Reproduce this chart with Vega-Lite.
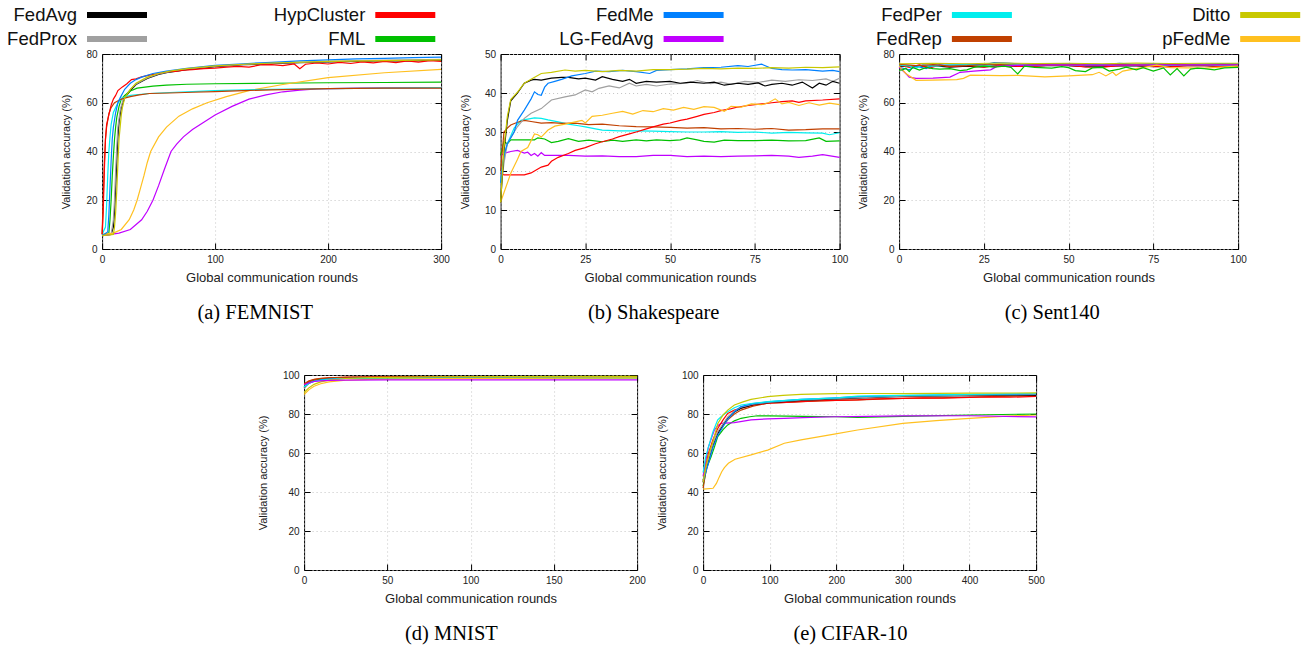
{
"$schema": "https://vega.github.io/schema/vega-lite/v6.json",
"padding": {"left": 60, "top": 4, "right": 0, "bottom": 0},
"background": "white",
"datasets": {
"a": [
{"m":"FedAvg","r":0,"v":5.5},{"m":"FedAvg","r":8,"v":6},{"m":"FedAvg","r":10,"v":9},{"m":"FedAvg","r":11,"v":15},{"m":"FedAvg","r":12,"v":25},{"m":"FedAvg","r":13,"v":36},{"m":"FedAvg","r":14,"v":46},{"m":"FedAvg","r":15,"v":52},{"m":"FedAvg","r":17,"v":58},{"m":"FedAvg","r":20,"v":62},{"m":"FedAvg","r":25,"v":65},{"m":"FedAvg","r":30,"v":67.5},{"m":"FedAvg","r":40,"v":70},{"m":"FedAvg","r":50,"v":71.6},{"m":"FedAvg","r":60,"v":72.6},{"m":"FedAvg","r":75,"v":73.6},{"m":"FedAvg","r":90,"v":74.3},{"m":"FedAvg","r":100,"v":74.8},{"m":"FedAvg","r":125,"v":75.6},{"m":"FedAvg","r":150,"v":76},{"m":"FedAvg","r":175,"v":76.4},{"m":"FedAvg","r":200,"v":76.8},{"m":"FedAvg","r":225,"v":77},{"m":"FedAvg","r":250,"v":77.3},{"m":"FedAvg","r":275,"v":77.2},{"m":"FedAvg","r":300,"v":77.5},
{"m":"FedProx","r":0,"v":5.5},{"m":"FedProx","r":8,"v":6},{"m":"FedProx","r":10,"v":12},{"m":"FedProx","r":11,"v":20},{"m":"FedProx","r":12,"v":32},{"m":"FedProx","r":13,"v":42},{"m":"FedProx","r":14,"v":50},{"m":"FedProx","r":16,"v":57},{"m":"FedProx","r":19,"v":62},{"m":"FedProx","r":25,"v":65.5},{"m":"FedProx","r":30,"v":67.7},{"m":"FedProx","r":40,"v":70.2},{"m":"FedProx","r":50,"v":71.8},{"m":"FedProx","r":60,"v":72.8},{"m":"FedProx","r":75,"v":73.8},{"m":"FedProx","r":100,"v":75},{"m":"FedProx","r":125,"v":75.7},{"m":"FedProx","r":150,"v":76.2},{"m":"FedProx","r":175,"v":76.6},{"m":"FedProx","r":200,"v":77},{"m":"FedProx","r":250,"v":77.5},{"m":"FedProx","r":300,"v":77.8},
{"m":"FML","r":0,"v":5.5},{"m":"FML","r":6,"v":6.5},{"m":"FML","r":7,"v":12},{"m":"FML","r":8,"v":20},{"m":"FML","r":9,"v":30},{"m":"FML","r":10,"v":38},{"m":"FML","r":11,"v":45},{"m":"FML","r":12,"v":50},{"m":"FML","r":13,"v":54},{"m":"FML","r":15,"v":58.5},{"m":"FML","r":17,"v":61.5},{"m":"FML","r":20,"v":63},{"m":"FML","r":25,"v":64.8},{"m":"FML","r":31,"v":66},{"m":"FML","r":45,"v":66.8},{"m":"FML","r":57,"v":67.2},{"m":"FML","r":75,"v":67.6},{"m":"FML","r":100,"v":67.8},{"m":"FML","r":150,"v":68},{"m":"FML","r":200,"v":68.2},{"m":"FML","r":250,"v":68.3},{"m":"FML","r":300,"v":68.5},
{"m":"LG-FedAvg","r":0,"v":5.5},{"m":"LG-FedAvg","r":15,"v":6.5},{"m":"LG-FedAvg","r":25,"v":8},{"m":"LG-FedAvg","r":35,"v":12},{"m":"LG-FedAvg","r":40,"v":15.5},{"m":"LG-FedAvg","r":45,"v":20},{"m":"LG-FedAvg","r":50,"v":26},{"m":"LG-FedAvg","r":55,"v":32.5},{"m":"LG-FedAvg","r":61,"v":40},{"m":"LG-FedAvg","r":66,"v":43},{"m":"LG-FedAvg","r":72,"v":46},{"m":"LG-FedAvg","r":80,"v":49},{"m":"LG-FedAvg","r":90,"v":52},{"m":"LG-FedAvg","r":100,"v":55},{"m":"LG-FedAvg","r":115,"v":58.5},{"m":"LG-FedAvg","r":130,"v":61.5},{"m":"LG-FedAvg","r":145,"v":63.2},{"m":"LG-FedAvg","r":160,"v":64.5},{"m":"LG-FedAvg","r":175,"v":65.2},{"m":"LG-FedAvg","r":190,"v":65.7},{"m":"LG-FedAvg","r":230,"v":66},{"m":"LG-FedAvg","r":300,"v":66.2},
{"m":"pFedMe","r":0,"v":6},{"m":"pFedMe","r":10,"v":6.5},{"m":"pFedMe","r":17,"v":8},{"m":"pFedMe","r":24,"v":12},{"m":"pFedMe","r":28,"v":16},{"m":"pFedMe","r":31,"v":20},{"m":"pFedMe","r":34,"v":25},{"m":"pFedMe","r":37,"v":30},{"m":"pFedMe","r":40,"v":35.5},{"m":"pFedMe","r":43,"v":40},{"m":"pFedMe","r":50,"v":46},{"m":"pFedMe","r":57,"v":50},{"m":"pFedMe","r":68,"v":54.5},{"m":"pFedMe","r":80,"v":57.5},{"m":"pFedMe","r":93,"v":60},{"m":"pFedMe","r":110,"v":62.5},{"m":"pFedMe","r":130,"v":65},{"m":"pFedMe","r":160,"v":67.5},{"m":"pFedMe","r":200,"v":70.3},{"m":"pFedMe","r":250,"v":72.3},{"m":"pFedMe","r":300,"v":73.7},
{"m":"FedPer","r":0,"v":6},{"m":"FedPer","r":3,"v":9},{"m":"FedPer","r":4,"v":18},{"m":"FedPer","r":5,"v":30},{"m":"FedPer","r":6,"v":40},{"m":"FedPer","r":7,"v":46},{"m":"FedPer","r":8,"v":51},{"m":"FedPer","r":10,"v":56},{"m":"FedPer","r":12,"v":58},{"m":"FedPer","r":14,"v":60},{"m":"FedPer","r":18,"v":62},{"m":"FedPer","r":25,"v":63},{"m":"FedPer","r":42,"v":63.8},{"m":"FedPer","r":60,"v":64.2},{"m":"FedPer","r":80,"v":64.6},{"m":"FedPer","r":100,"v":65},{"m":"FedPer","r":150,"v":65.5},{"m":"FedPer","r":200,"v":65.8},{"m":"FedPer","r":250,"v":66},{"m":"FedPer","r":300,"v":66.2},
{"m":"FedRep","r":0,"v":6},{"m":"FedRep","r":1,"v":20},{"m":"FedRep","r":2,"v":35},{"m":"FedRep","r":3,"v":45},{"m":"FedRep","r":4,"v":50},{"m":"FedRep","r":6,"v":55.5},{"m":"FedRep","r":8,"v":58},{"m":"FedRep","r":11,"v":60},{"m":"FedRep","r":15,"v":61},{"m":"FedRep","r":19,"v":61.8},{"m":"FedRep","r":25,"v":62.5},{"m":"FedRep","r":33,"v":63.2},{"m":"FedRep","r":42,"v":63.8},{"m":"FedRep","r":60,"v":64},{"m":"FedRep","r":80,"v":64.3},{"m":"FedRep","r":100,"v":64.6},{"m":"FedRep","r":125,"v":65},{"m":"FedRep","r":150,"v":65.3},{"m":"FedRep","r":200,"v":65.8},{"m":"FedRep","r":250,"v":66},{"m":"FedRep","r":300,"v":66},
{"m":"HypCluster","r":0,"v":6},{"m":"HypCluster","r":1,"v":15},{"m":"HypCluster","r":2,"v":32},{"m":"HypCluster","r":3,"v":45},{"m":"HypCluster","r":4,"v":51},{"m":"HypCluster","r":6,"v":55},{"m":"HypCluster","r":8,"v":59},{"m":"HypCluster","r":10,"v":61.5},{"m":"HypCluster","r":12,"v":63},{"m":"HypCluster","r":14,"v":65},{"m":"HypCluster","r":18,"v":66.5},{"m":"HypCluster","r":22,"v":67.8},{"m":"HypCluster","r":26,"v":69.5},{"m":"HypCluster","r":30,"v":69.8},{"m":"HypCluster","r":35,"v":70.6},{"m":"HypCluster","r":42,"v":71.3},{"m":"HypCluster","r":50,"v":72},{"m":"HypCluster","r":57,"v":72.8},{"m":"HypCluster","r":65,"v":72.9},{"m":"HypCluster","r":72,"v":73.4},{"m":"HypCluster","r":80,"v":73.6},{"m":"HypCluster","r":90,"v":74},{"m":"HypCluster","r":100,"v":74.2},{"m":"HypCluster","r":110,"v":74.6},{"m":"HypCluster","r":120,"v":74.9},{"m":"HypCluster","r":130,"v":74.6},{"m":"HypCluster","r":140,"v":75.5},{"m":"HypCluster","r":150,"v":75.6},{"m":"HypCluster","r":160,"v":75.2},{"m":"HypCluster","r":170,"v":75.9},{"m":"HypCluster","r":175,"v":74},{"m":"HypCluster","r":180,"v":75.8},{"m":"HypCluster","r":190,"v":76.3},{"m":"HypCluster","r":200,"v":75.9},{"m":"HypCluster","r":210,"v":76.6},{"m":"HypCluster","r":220,"v":76.1},{"m":"HypCluster","r":230,"v":76.8},{"m":"HypCluster","r":240,"v":76.4},{"m":"HypCluster","r":250,"v":77},{"m":"HypCluster","r":260,"v":76.5},{"m":"HypCluster","r":270,"v":77.2},{"m":"HypCluster","r":280,"v":76.7},{"m":"HypCluster","r":290,"v":77.3},{"m":"HypCluster","r":300,"v":77},
{"m":"FedMe","r":0,"v":5.5},{"m":"FedMe","r":5,"v":7},{"m":"FedMe","r":6,"v":14},{"m":"FedMe","r":7,"v":25},{"m":"FedMe","r":8,"v":36},{"m":"FedMe","r":9,"v":45},{"m":"FedMe","r":10,"v":50},{"m":"FedMe","r":12,"v":56},{"m":"FedMe","r":14,"v":60},{"m":"FedMe","r":16,"v":62},{"m":"FedMe","r":20,"v":65.5},{"m":"FedMe","r":25,"v":68},{"m":"FedMe","r":30,"v":69.5},{"m":"FedMe","r":35,"v":70.5},{"m":"FedMe","r":45,"v":72},{"m":"FedMe","r":57,"v":73},{"m":"FedMe","r":75,"v":74.1},{"m":"FedMe","r":100,"v":75.3},{"m":"FedMe","r":125,"v":76},{"m":"FedMe","r":150,"v":76.6},{"m":"FedMe","r":175,"v":77.2},{"m":"FedMe","r":200,"v":77.6},{"m":"FedMe","r":225,"v":78},{"m":"FedMe","r":250,"v":78.2},{"m":"FedMe","r":275,"v":78.5},{"m":"FedMe","r":300,"v":78.7},
{"m":"Ditto","r":0,"v":5.5},{"m":"Ditto","r":10,"v":6},{"m":"Ditto","r":11,"v":9},{"m":"Ditto","r":12,"v":15},{"m":"Ditto","r":13,"v":24},{"m":"Ditto","r":14,"v":35},{"m":"Ditto","r":15,"v":45},{"m":"Ditto","r":17,"v":55},{"m":"Ditto","r":18,"v":58},{"m":"Ditto","r":20,"v":62},{"m":"Ditto","r":25,"v":65.5},{"m":"Ditto","r":30,"v":68},{"m":"Ditto","r":40,"v":70.5},{"m":"Ditto","r":50,"v":72},{"m":"Ditto","r":60,"v":73},{"m":"Ditto","r":75,"v":74},{"m":"Ditto","r":100,"v":75.1},{"m":"Ditto","r":125,"v":75.8},{"m":"Ditto","r":150,"v":76.3},{"m":"Ditto","r":200,"v":77},{"m":"Ditto","r":250,"v":77.3},{"m":"Ditto","r":300,"v":77.6}
],
"b": [
{"m":"LG-FedAvg","r":0,"v":24},{"m":"LG-FedAvg","r":1,"v":24.5},{"m":"LG-FedAvg","r":3,"v":25},{"m":"LG-FedAvg","r":5,"v":25.3},{"m":"LG-FedAvg","r":7,"v":24.6},{"m":"LG-FedAvg","r":8,"v":24.8},{"m":"LG-FedAvg","r":9,"v":24},{"m":"LG-FedAvg","r":10,"v":24.5},{"m":"LG-FedAvg","r":11,"v":23.8},{"m":"LG-FedAvg","r":12,"v":24.7},{"m":"LG-FedAvg","r":13,"v":24},{"m":"LG-FedAvg","r":16,"v":24},{"m":"LG-FedAvg","r":20,"v":24},{"m":"LG-FedAvg","r":25,"v":23.8},{"m":"LG-FedAvg","r":30,"v":23.9},{"m":"LG-FedAvg","r":35,"v":23.7},{"m":"LG-FedAvg","r":40,"v":23.7},{"m":"LG-FedAvg","r":45,"v":24},{"m":"LG-FedAvg","r":50,"v":24},{"m":"LG-FedAvg","r":55,"v":23.7},{"m":"LG-FedAvg","r":60,"v":23.8},{"m":"LG-FedAvg","r":65,"v":23.7},{"m":"LG-FedAvg","r":70,"v":23.8},{"m":"LG-FedAvg","r":75,"v":23.9},{"m":"LG-FedAvg","r":80,"v":24},{"m":"LG-FedAvg","r":85,"v":23.8},{"m":"LG-FedAvg","r":88,"v":23.5},{"m":"LG-FedAvg","r":92,"v":23.8},{"m":"LG-FedAvg","r":95,"v":24.2},{"m":"LG-FedAvg","r":100,"v":23.5},
{"m":"FML","r":0,"v":24},{"m":"FML","r":1,"v":27.5},{"m":"FML","r":2,"v":27},{"m":"FML","r":3,"v":28},{"m":"FML","r":5,"v":28},{"m":"FML","r":8,"v":28},{"m":"FML","r":10,"v":28},{"m":"FML","r":11,"v":28.5},{"m":"FML","r":13,"v":28.2},{"m":"FML","r":15,"v":27.3},{"m":"FML","r":17,"v":27.6},{"m":"FML","r":20,"v":28.3},{"m":"FML","r":23,"v":27.6},{"m":"FML","r":26,"v":27.9},{"m":"FML","r":30,"v":27.5},{"m":"FML","r":33,"v":27.9},{"m":"FML","r":36,"v":27.6},{"m":"FML","r":40,"v":28},{"m":"FML","r":43,"v":27.7},{"m":"FML","r":46,"v":28},{"m":"FML","r":50,"v":27.8},{"m":"FML","r":53,"v":28},{"m":"FML","r":55,"v":28.5},{"m":"FML","r":58,"v":28},{"m":"FML","r":60,"v":27.6},{"m":"FML","r":63,"v":27.4},{"m":"FML","r":66,"v":27.9},{"m":"FML","r":70,"v":27.8},{"m":"FML","r":75,"v":27.8},{"m":"FML","r":80,"v":27.9},{"m":"FML","r":85,"v":27.7},{"m":"FML","r":90,"v":27.8},{"m":"FML","r":94,"v":28.5},{"m":"FML","r":96,"v":27.6},{"m":"FML","r":100,"v":27.7},
{"m":"FedPer","r":0,"v":17},{"m":"FedPer","r":1,"v":24},{"m":"FedPer","r":2,"v":27},{"m":"FedPer","r":4,"v":31},{"m":"FedPer","r":6,"v":33},{"m":"FedPer","r":8,"v":33.3},{"m":"FedPer","r":10,"v":33.6},{"m":"FedPer","r":12,"v":33.5},{"m":"FedPer","r":14,"v":33.1},{"m":"FedPer","r":17,"v":32.6},{"m":"FedPer","r":20,"v":32},{"m":"FedPer","r":23,"v":31.6},{"m":"FedPer","r":25,"v":31.3},{"m":"FedPer","r":28,"v":30.8},{"m":"FedPer","r":30,"v":30.5},{"m":"FedPer","r":35,"v":30.3},{"m":"FedPer","r":40,"v":30.3},{"m":"FedPer","r":45,"v":30.2},{"m":"FedPer","r":50,"v":30.1},{"m":"FedPer","r":55,"v":30},{"m":"FedPer","r":60,"v":30},{"m":"FedPer","r":65,"v":30.1},{"m":"FedPer","r":70,"v":29.9},{"m":"FedPer","r":75,"v":30},{"m":"FedPer","r":80,"v":29.7},{"m":"FedPer","r":85,"v":29.9},{"m":"FedPer","r":90,"v":29.8},{"m":"FedPer","r":95,"v":29.7},{"m":"FedPer","r":97,"v":29.3},{"m":"FedPer","r":100,"v":29.8},
{"m":"FedRep","r":0,"v":20},{"m":"FedRep","r":1,"v":30},{"m":"FedRep","r":2,"v":31},{"m":"FedRep","r":3,"v":31.8},{"m":"FedRep","r":5,"v":32.5},{"m":"FedRep","r":7,"v":33},{"m":"FedRep","r":9,"v":32.7},{"m":"FedRep","r":12,"v":32.3},{"m":"FedRep","r":15,"v":32.4},{"m":"FedRep","r":18,"v":32.2},{"m":"FedRep","r":22,"v":32.3},{"m":"FedRep","r":26,"v":31.9},{"m":"FedRep","r":30,"v":32},{"m":"FedRep","r":35,"v":31.6},{"m":"FedRep","r":40,"v":31.4},{"m":"FedRep","r":45,"v":31.3},{"m":"FedRep","r":50,"v":31.2},{"m":"FedRep","r":55,"v":31},{"m":"FedRep","r":60,"v":31.1},{"m":"FedRep","r":65,"v":30.8},{"m":"FedRep","r":70,"v":30.9},{"m":"FedRep","r":75,"v":30.7},{"m":"FedRep","r":80,"v":30.9},{"m":"FedRep","r":85,"v":30.5},{"m":"FedRep","r":90,"v":30.6},{"m":"FedRep","r":95,"v":30.8},{"m":"FedRep","r":100,"v":30.8},
{"m":"HypCluster","r":0,"v":19.5},{"m":"HypCluster","r":1,"v":19},{"m":"HypCluster","r":7,"v":19},{"m":"HypCluster","r":9,"v":19.5},{"m":"HypCluster","r":10,"v":20},{"m":"HypCluster","r":12,"v":21},{"m":"HypCluster","r":14,"v":21.5},{"m":"HypCluster","r":15,"v":22.5},{"m":"HypCluster","r":17,"v":23.5},{"m":"HypCluster","r":20,"v":24.5},{"m":"HypCluster","r":22,"v":25.3},{"m":"HypCluster","r":25,"v":26},{"m":"HypCluster","r":28,"v":27},{"m":"HypCluster","r":30,"v":27.5},{"m":"HypCluster","r":33,"v":28.2},{"m":"HypCluster","r":35,"v":28.8},{"m":"HypCluster","r":38,"v":29.5},{"m":"HypCluster","r":40,"v":30},{"m":"HypCluster","r":43,"v":30.8},{"m":"HypCluster","r":45,"v":31.3},{"m":"HypCluster","r":48,"v":32},{"m":"HypCluster","r":50,"v":32.3},{"m":"HypCluster","r":53,"v":33},{"m":"HypCluster","r":55,"v":33.3},{"m":"HypCluster","r":58,"v":34},{"m":"HypCluster","r":60,"v":34.5},{"m":"HypCluster","r":63,"v":35},{"m":"HypCluster","r":65,"v":35.5},{"m":"HypCluster","r":68,"v":36},{"m":"HypCluster","r":70,"v":36.4},{"m":"HypCluster","r":73,"v":36.8},{"m":"HypCluster","r":75,"v":37},{"m":"HypCluster","r":78,"v":37.3},{"m":"HypCluster","r":80,"v":37.5},{"m":"HypCluster","r":83,"v":37.8},{"m":"HypCluster","r":86,"v":38},{"m":"HypCluster","r":88,"v":37.6},{"m":"HypCluster","r":90,"v":38},{"m":"HypCluster","r":95,"v":38.2},{"m":"HypCluster","r":100,"v":38.5},
{"m":"pFedMe","r":0,"v":12},{"m":"pFedMe","r":3,"v":19.4},{"m":"pFedMe","r":5,"v":23},{"m":"pFedMe","r":6,"v":25},{"m":"pFedMe","r":8,"v":26},{"m":"pFedMe","r":10,"v":29.5},{"m":"pFedMe","r":11,"v":29.3},{"m":"pFedMe","r":12,"v":28.7},{"m":"pFedMe","r":14,"v":30.5},{"m":"pFedMe","r":16,"v":31.5},{"m":"pFedMe","r":19,"v":32},{"m":"pFedMe","r":22,"v":32.6},{"m":"pFedMe","r":24,"v":33},{"m":"pFedMe","r":25,"v":32.3},{"m":"pFedMe","r":27,"v":34},{"m":"pFedMe","r":30,"v":34.3},{"m":"pFedMe","r":33,"v":34.8},{"m":"pFedMe","r":36,"v":35.3},{"m":"pFedMe","r":39,"v":34.6},{"m":"pFedMe","r":42,"v":35.5},{"m":"pFedMe","r":45,"v":35.2},{"m":"pFedMe","r":48,"v":36},{"m":"pFedMe","r":51,"v":35.6},{"m":"pFedMe","r":54,"v":36.3},{"m":"pFedMe","r":57,"v":35.8},{"m":"pFedMe","r":60,"v":36.5},{"m":"pFedMe","r":63,"v":36.3},{"m":"pFedMe","r":66,"v":35.3},{"m":"pFedMe","r":68,"v":36.6},{"m":"pFedMe","r":71,"v":36.4},{"m":"pFedMe","r":74,"v":37.2},{"m":"pFedMe","r":77,"v":37},{"m":"pFedMe","r":79,"v":37.5},{"m":"pFedMe","r":81,"v":38.5},{"m":"pFedMe","r":83,"v":37.2},{"m":"pFedMe","r":85,"v":37.6},{"m":"pFedMe","r":88,"v":36.8},{"m":"pFedMe","r":91,"v":37.5},{"m":"pFedMe","r":94,"v":36.9},{"m":"pFedMe","r":97,"v":37.4},{"m":"pFedMe","r":100,"v":37},
{"m":"FedProx","r":0,"v":15},{"m":"FedProx","r":1,"v":22},{"m":"FedProx","r":2,"v":27},{"m":"FedProx","r":4,"v":30},{"m":"FedProx","r":5,"v":31.4},{"m":"FedProx","r":7,"v":33.5},{"m":"FedProx","r":9,"v":34.8},{"m":"FedProx","r":12,"v":36},{"m":"FedProx","r":15,"v":38.2},{"m":"FedProx","r":19,"v":39},{"m":"FedProx","r":22,"v":39.5},{"m":"FedProx","r":25,"v":40.8},{"m":"FedProx","r":27,"v":40.3},{"m":"FedProx","r":29,"v":41.2},{"m":"FedProx","r":32,"v":41.8},{"m":"FedProx","r":35,"v":41.3},{"m":"FedProx","r":38,"v":42.5},{"m":"FedProx","r":40,"v":41.8},{"m":"FedProx","r":43,"v":42.2},{"m":"FedProx","r":46,"v":41.8},{"m":"FedProx","r":50,"v":42.3},{"m":"FedProx","r":55,"v":42.5},{"m":"FedProx","r":58,"v":43.2},{"m":"FedProx","r":62,"v":42.4},{"m":"FedProx","r":65,"v":42.8},{"m":"FedProx","r":68,"v":42.2},{"m":"FedProx","r":72,"v":43},{"m":"FedProx","r":76,"v":42.7},{"m":"FedProx","r":80,"v":43.3},{"m":"FedProx","r":84,"v":43},{"m":"FedProx","r":88,"v":43.4},{"m":"FedProx","r":92,"v":43.2},{"m":"FedProx","r":96,"v":43.6},{"m":"FedProx","r":98,"v":43},{"m":"FedProx","r":100,"v":43.8},
{"m":"FedAvg","r":0,"v":12},{"m":"FedAvg","r":1,"v":25},{"m":"FedAvg","r":2,"v":33},{"m":"FedAvg","r":3,"v":38},{"m":"FedAvg","r":5,"v":40},{"m":"FedAvg","r":7,"v":42.5},{"m":"FedAvg","r":9,"v":43.3},{"m":"FedAvg","r":10,"v":43.5},{"m":"FedAvg","r":12,"v":43.3},{"m":"FedAvg","r":15,"v":43.8},{"m":"FedAvg","r":18,"v":44},{"m":"FedAvg","r":20,"v":44},{"m":"FedAvg","r":23,"v":43.6},{"m":"FedAvg","r":25,"v":43.8},{"m":"FedAvg","r":28,"v":43.3},{"m":"FedAvg","r":30,"v":44.2},{"m":"FedAvg","r":33,"v":43.5},{"m":"FedAvg","r":36,"v":43},{"m":"FedAvg","r":38,"v":43.5},{"m":"FedAvg","r":40,"v":42.5},{"m":"FedAvg","r":43,"v":43},{"m":"FedAvg","r":46,"v":42.8},{"m":"FedAvg","r":50,"v":43},{"m":"FedAvg","r":53,"v":42.5},{"m":"FedAvg","r":56,"v":42.8},{"m":"FedAvg","r":60,"v":42.5},{"m":"FedAvg","r":63,"v":42.8},{"m":"FedAvg","r":66,"v":42},{"m":"FedAvg","r":70,"v":42.5},{"m":"FedAvg","r":73,"v":42.2},{"m":"FedAvg","r":76,"v":42.6},{"m":"FedAvg","r":78,"v":41.8},{"m":"FedAvg","r":80,"v":42.2},{"m":"FedAvg","r":83,"v":42.5},{"m":"FedAvg","r":86,"v":42},{"m":"FedAvg","r":89,"v":42.8},{"m":"FedAvg","r":92,"v":41.3},{"m":"FedAvg","r":94,"v":42.5},{"m":"FedAvg","r":96,"v":42},{"m":"FedAvg","r":98,"v":43},{"m":"FedAvg","r":100,"v":42.5},
{"m":"FedMe","r":0,"v":17},{"m":"FedMe","r":1,"v":24},{"m":"FedMe","r":2,"v":27},{"m":"FedMe","r":4,"v":30},{"m":"FedMe","r":5,"v":33},{"m":"FedMe","r":7,"v":35.6},{"m":"FedMe","r":9,"v":38.5},{"m":"FedMe","r":10,"v":40.3},{"m":"FedMe","r":11,"v":39.6},{"m":"FedMe","r":12,"v":39.4},{"m":"FedMe","r":13,"v":41.5},{"m":"FedMe","r":14,"v":42.5},{"m":"FedMe","r":16,"v":43},{"m":"FedMe","r":18,"v":43.5},{"m":"FedMe","r":21,"v":44.4},{"m":"FedMe","r":25,"v":45},{"m":"FedMe","r":28,"v":45.6},{"m":"FedMe","r":32,"v":45.5},{"m":"FedMe","r":36,"v":45.8},{"m":"FedMe","r":40,"v":45.5},{"m":"FedMe","r":44,"v":45},{"m":"FedMe","r":46,"v":45.8},{"m":"FedMe","r":50,"v":46},{"m":"FedMe","r":55,"v":46.2},{"m":"FedMe","r":60,"v":46.5},{"m":"FedMe","r":65,"v":46.6},{"m":"FedMe","r":70,"v":47},{"m":"FedMe","r":73,"v":46.8},{"m":"FedMe","r":77,"v":47.4},{"m":"FedMe","r":80,"v":46.3},{"m":"FedMe","r":83,"v":46},{"m":"FedMe","r":86,"v":45.9},{"m":"FedMe","r":90,"v":46},{"m":"FedMe","r":95,"v":45.6},{"m":"FedMe","r":98,"v":45.8},{"m":"FedMe","r":100,"v":45.5},
{"m":"Ditto","r":0,"v":12},{"m":"Ditto","r":1,"v":26},{"m":"Ditto","r":2,"v":34},{"m":"Ditto","r":3,"v":38.3},{"m":"Ditto","r":5,"v":40.2},{"m":"Ditto","r":7,"v":42.5},{"m":"Ditto","r":9,"v":43.5},{"m":"Ditto","r":12,"v":45},{"m":"Ditto","r":15,"v":45.3},{"m":"Ditto","r":19,"v":45.9},{"m":"Ditto","r":22,"v":45.6},{"m":"Ditto","r":25,"v":45.8},{"m":"Ditto","r":30,"v":45.5},{"m":"Ditto","r":35,"v":45.8},{"m":"Ditto","r":40,"v":45.6},{"m":"Ditto","r":45,"v":46},{"m":"Ditto","r":50,"v":46},{"m":"Ditto","r":55,"v":46.1},{"m":"Ditto","r":60,"v":46.3},{"m":"Ditto","r":65,"v":46.2},{"m":"Ditto","r":70,"v":46.4},{"m":"Ditto","r":75,"v":46.3},{"m":"Ditto","r":80,"v":46.5},{"m":"Ditto","r":85,"v":46.4},{"m":"Ditto","r":90,"v":46.6},{"m":"Ditto","r":95,"v":46.5},{"m":"Ditto","r":100,"v":46.7}
],
"c": [
{"m":"FedAvg","r":0,"v":75},{"m":"FedAvg","r":5,"v":74.8},{"m":"FedAvg","r":10,"v":75.2},{"m":"FedAvg","r":15,"v":74.6},{"m":"FedAvg","r":20,"v":75},{"m":"FedAvg","r":25,"v":74.7},{"m":"FedAvg","r":30,"v":75.3},{"m":"FedAvg","r":35,"v":74.9},{"m":"FedAvg","r":40,"v":75},{"m":"FedAvg","r":45,"v":75.3},{"m":"FedAvg","r":50,"v":75.2},{"m":"FedAvg","r":55,"v":74.8},{"m":"FedAvg","r":60,"v":74.8},{"m":"FedAvg","r":65,"v":75.2},{"m":"FedAvg","r":70,"v":75.1},{"m":"FedAvg","r":75,"v":74.8},{"m":"FedAvg","r":80,"v":74.9},{"m":"FedAvg","r":85,"v":75.3},{"m":"FedAvg","r":90,"v":75.2},{"m":"FedAvg","r":95,"v":74.9},{"m":"FedAvg","r":100,"v":75},
{"m":"FedProx","r":0,"v":75.5},{"m":"FedProx","r":5,"v":75.2},{"m":"FedProx","r":10,"v":75},{"m":"FedProx","r":15,"v":75.5},{"m":"FedProx","r":20,"v":75.4},{"m":"FedProx","r":25,"v":75.1},{"m":"FedProx","r":30,"v":75.6},{"m":"FedProx","r":40,"v":75.2},{"m":"FedProx","r":50,"v":75.5},{"m":"FedProx","r":60,"v":75.3},{"m":"FedProx","r":70,"v":75.6},{"m":"FedProx","r":80,"v":75.2},{"m":"FedProx","r":90,"v":75.5},{"m":"FedProx","r":100,"v":75.4},
{"m":"HypCluster","r":0,"v":75.5},{"m":"HypCluster","r":3,"v":74.5},{"m":"HypCluster","r":6,"v":75.5},{"m":"HypCluster","r":9,"v":74.2},{"m":"HypCluster","r":12,"v":75.5},{"m":"HypCluster","r":15,"v":74.8},{"m":"HypCluster","r":20,"v":75.3},{"m":"HypCluster","r":25,"v":74.6},{"m":"HypCluster","r":30,"v":75.5},{"m":"HypCluster","r":35,"v":74.9},{"m":"HypCluster","r":40,"v":75},{"m":"HypCluster","r":45,"v":75.4},{"m":"HypCluster","r":50,"v":75.3},{"m":"HypCluster","r":55,"v":74.7},{"m":"HypCluster","r":60,"v":74.6},{"m":"HypCluster","r":65,"v":75.2},{"m":"HypCluster","r":70,"v":75.4},{"m":"HypCluster","r":75,"v":74.9},{"m":"HypCluster","r":80,"v":74.7},{"m":"HypCluster","r":85,"v":75.2},{"m":"HypCluster","r":90,"v":75.3},{"m":"HypCluster","r":95,"v":74.8},{"m":"HypCluster","r":100,"v":75},
{"m":"FedMe","r":0,"v":74.5},{"m":"FedMe","r":3,"v":73.5},{"m":"FedMe","r":5,"v":75},{"m":"FedMe","r":8,"v":74},{"m":"FedMe","r":10,"v":75.5},{"m":"FedMe","r":15,"v":75.3},{"m":"FedMe","r":20,"v":75.8},{"m":"FedMe","r":25,"v":75.6},{"m":"FedMe","r":28,"v":76.5},{"m":"FedMe","r":32,"v":76.3},{"m":"FedMe","r":36,"v":75.9},{"m":"FedMe","r":40,"v":75.8},{"m":"FedMe","r":45,"v":76.1},{"m":"FedMe","r":50,"v":76},{"m":"FedMe","r":55,"v":75.8},{"m":"FedMe","r":60,"v":75.7},{"m":"FedMe","r":65,"v":76.2},{"m":"FedMe","r":70,"v":75.8},{"m":"FedMe","r":75,"v":76.1},{"m":"FedMe","r":80,"v":76},{"m":"FedMe","r":85,"v":75.8},{"m":"FedMe","r":90,"v":75.9},{"m":"FedMe","r":95,"v":76.1},{"m":"FedMe","r":100,"v":76},
{"m":"FedPer","r":0,"v":75.5},{"m":"FedPer","r":3,"v":75},{"m":"FedPer","r":5,"v":74.2},{"m":"FedPer","r":7,"v":75.5},{"m":"FedPer","r":10,"v":75},{"m":"FedPer","r":15,"v":75.4},{"m":"FedPer","r":20,"v":75.5},{"m":"FedPer","r":25,"v":75.1},{"m":"FedPer","r":30,"v":75.8},{"m":"FedPer","r":35,"v":75.4},{"m":"FedPer","r":40,"v":75.3},{"m":"FedPer","r":45,"v":75.7},{"m":"FedPer","r":50,"v":75.6},{"m":"FedPer","r":55,"v":75.2},{"m":"FedPer","r":60,"v":75.2},{"m":"FedPer","r":65,"v":75.6},{"m":"FedPer","r":70,"v":75.7},{"m":"FedPer","r":75,"v":75.3},{"m":"FedPer","r":80,"v":75.3},{"m":"FedPer","r":85,"v":75.6},{"m":"FedPer","r":90,"v":75.5},{"m":"FedPer","r":95,"v":75.3},{"m":"FedPer","r":100,"v":75.6},
{"m":"FedRep","r":0,"v":75.8},{"m":"FedRep","r":5,"v":75.2},{"m":"FedRep","r":10,"v":75.6},{"m":"FedRep","r":15,"v":75},{"m":"FedRep","r":20,"v":75.2},{"m":"FedRep","r":25,"v":75.6},{"m":"FedRep","r":30,"v":75.7},{"m":"FedRep","r":35,"v":75.3},{"m":"FedRep","r":40,"v":75.5},{"m":"FedRep","r":45,"v":75.8},{"m":"FedRep","r":50,"v":75.8},{"m":"FedRep","r":55,"v":75.4},{"m":"FedRep","r":60,"v":75.3},{"m":"FedRep","r":65,"v":75.7},{"m":"FedRep","r":70,"v":75.6},{"m":"FedRep","r":75,"v":75.4},{"m":"FedRep","r":80,"v":75.7},{"m":"FedRep","r":85,"v":75.5},{"m":"FedRep","r":90,"v":75.4},{"m":"FedRep","r":95,"v":75.7},{"m":"FedRep","r":100,"v":75.6},
{"m":"Ditto","r":0,"v":76},{"m":"Ditto","r":10,"v":76.2},{"m":"Ditto","r":20,"v":76},{"m":"Ditto","r":30,"v":76.3},{"m":"Ditto","r":40,"v":76.1},{"m":"Ditto","r":50,"v":76.2},{"m":"Ditto","r":60,"v":76},{"m":"Ditto","r":70,"v":76.3},{"m":"Ditto","r":80,"v":76.1},{"m":"Ditto","r":90,"v":76.2},{"m":"Ditto","r":100,"v":76.2},
{"m":"LG-FedAvg","r":0,"v":74.5},{"m":"LG-FedAvg","r":2,"v":72},{"m":"LG-FedAvg","r":3,"v":70.5},{"m":"LG-FedAvg","r":5,"v":70},{"m":"LG-FedAvg","r":10,"v":70.1},{"m":"LG-FedAvg","r":15,"v":70.5},{"m":"LG-FedAvg","r":18,"v":72.5},{"m":"LG-FedAvg","r":22,"v":73},{"m":"LG-FedAvg","r":27,"v":73.5},{"m":"LG-FedAvg","r":29,"v":75},{"m":"LG-FedAvg","r":35,"v":75.3},{"m":"LG-FedAvg","r":45,"v":75.5},{"m":"LG-FedAvg","r":60,"v":75.4},{"m":"LG-FedAvg","r":80,"v":75.5},{"m":"LG-FedAvg","r":100,"v":75.5},
{"m":"pFedMe","r":0,"v":75},{"m":"pFedMe","r":2,"v":72},{"m":"pFedMe","r":5,"v":69.2},{"m":"pFedMe","r":10,"v":69.3},{"m":"pFedMe","r":17,"v":69.5},{"m":"pFedMe","r":19,"v":70},{"m":"pFedMe","r":21,"v":71.3},{"m":"pFedMe","r":30,"v":71.1},{"m":"pFedMe","r":35,"v":71.2},{"m":"pFedMe","r":43,"v":70.6},{"m":"pFedMe","r":50,"v":71},{"m":"pFedMe","r":57,"v":71.5},{"m":"pFedMe","r":59,"v":72.5},{"m":"pFedMe","r":61,"v":71},{"m":"pFedMe","r":63,"v":72.6},{"m":"pFedMe","r":64,"v":71.2},{"m":"pFedMe","r":66,"v":73},{"m":"pFedMe","r":70,"v":74},{"m":"pFedMe","r":76,"v":75.4},{"m":"pFedMe","r":80,"v":74.4},{"m":"pFedMe","r":90,"v":74.2},{"m":"pFedMe","r":100,"v":75},
{"m":"FML","r":0,"v":73.4},{"m":"FML","r":1,"v":73.5},{"m":"FML","r":2,"v":74.2},{"m":"FML","r":3,"v":72.8},{"m":"FML","r":4,"v":74.5},{"m":"FML","r":6,"v":73.4},{"m":"FML","r":8,"v":74.5},{"m":"FML","r":10,"v":74},{"m":"FML","r":12,"v":73.8},{"m":"FML","r":15,"v":74},{"m":"FML","r":18,"v":73.2},{"m":"FML","r":20,"v":73.5},{"m":"FML","r":22,"v":74.5},{"m":"FML","r":25,"v":75},{"m":"FML","r":28,"v":74.6},{"m":"FML","r":31,"v":75},{"m":"FML","r":33,"v":74.5},{"m":"FML","r":35,"v":71.8},{"m":"FML","r":37,"v":75},{"m":"FML","r":40,"v":74.5},{"m":"FML","r":45,"v":74.2},{"m":"FML","r":48,"v":74.8},{"m":"FML","r":50,"v":74.4},{"m":"FML","r":52,"v":73.2},{"m":"FML","r":55,"v":72.8},{"m":"FML","r":57,"v":74.3},{"m":"FML","r":60,"v":74.5},{"m":"FML","r":62,"v":73},{"m":"FML","r":65,"v":73.8},{"m":"FML","r":67,"v":74.6},{"m":"FML","r":70,"v":73.5},{"m":"FML","r":72,"v":74.4},{"m":"FML","r":75,"v":73},{"m":"FML","r":78,"v":74.3},{"m":"FML","r":80,"v":71.4},{"m":"FML","r":82,"v":74},{"m":"FML","r":84,"v":71},{"m":"FML","r":86,"v":73.8},{"m":"FML","r":88,"v":74.2},{"m":"FML","r":90,"v":74},{"m":"FML","r":93,"v":73.5},{"m":"FML","r":96,"v":74.3},{"m":"FML","r":100,"v":74.5}
],
"d": [
{"m":"FedAvg","r":0,"v":93.5},{"m":"FedAvg","r":3,"v":96},{"m":"FedAvg","r":6,"v":97.2},{"m":"FedAvg","r":10,"v":97.9},{"m":"FedAvg","r":15,"v":98.3},{"m":"FedAvg","r":25,"v":98.7},{"m":"FedAvg","r":40,"v":98.9},{"m":"FedAvg","r":80,"v":99},{"m":"FedAvg","r":200,"v":99.1},
{"m":"FedProx","r":0,"v":93},{"m":"FedProx","r":3,"v":95.8},{"m":"FedProx","r":6,"v":97},{"m":"FedProx","r":10,"v":97.7},{"m":"FedProx","r":15,"v":98.2},{"m":"FedProx","r":25,"v":98.6},{"m":"FedProx","r":40,"v":98.8},{"m":"FedProx","r":80,"v":98.9},{"m":"FedProx","r":200,"v":99},
{"m":"HypCluster","r":0,"v":95},{"m":"HypCluster","r":3,"v":96.8},{"m":"HypCluster","r":6,"v":97.7},{"m":"HypCluster","r":10,"v":98.2},{"m":"HypCluster","r":15,"v":98.5},{"m":"HypCluster","r":25,"v":98.8},{"m":"HypCluster","r":50,"v":99},{"m":"HypCluster","r":200,"v":99.1},
{"m":"FML","r":0,"v":94},{"m":"FML","r":3,"v":96.2},{"m":"FML","r":6,"v":97.1},{"m":"FML","r":10,"v":97.6},{"m":"FML","r":15,"v":98},{"m":"FML","r":25,"v":98.2},{"m":"FML","r":50,"v":98.4},{"m":"FML","r":200,"v":98.5},
{"m":"FedMe","r":0,"v":94},{"m":"FedMe","r":3,"v":95.8},{"m":"FedMe","r":6,"v":96.8},{"m":"FedMe","r":10,"v":97.5},{"m":"FedMe","r":15,"v":98},{"m":"FedMe","r":25,"v":98.4},{"m":"FedMe","r":50,"v":98.6},{"m":"FedMe","r":200,"v":98.8},
{"m":"FedPer","r":0,"v":94},{"m":"FedPer","r":3,"v":95.8},{"m":"FedPer","r":6,"v":96.7},{"m":"FedPer","r":10,"v":97.3},{"m":"FedPer","r":15,"v":97.8},{"m":"FedPer","r":25,"v":98.2},{"m":"FedPer","r":50,"v":98.5},{"m":"FedPer","r":200,"v":98.6},
{"m":"FedRep","r":0,"v":95.5},{"m":"FedRep","r":3,"v":97},{"m":"FedRep","r":6,"v":97.8},{"m":"FedRep","r":10,"v":98.3},{"m":"FedRep","r":15,"v":98.6},{"m":"FedRep","r":25,"v":98.9},{"m":"FedRep","r":50,"v":99.1},{"m":"FedRep","r":200,"v":99.2},
{"m":"pFedMe","r":0,"v":90},{"m":"pFedMe","r":3,"v":92.5},{"m":"pFedMe","r":6,"v":94.2},{"m":"pFedMe","r":10,"v":95.5},{"m":"pFedMe","r":15,"v":96.5},{"m":"pFedMe","r":25,"v":97.3},{"m":"pFedMe","r":40,"v":97.8},{"m":"pFedMe","r":80,"v":98.2},{"m":"pFedMe","r":200,"v":98.5},
{"m":"Ditto","r":0,"v":91},{"m":"Ditto","r":3,"v":93.5},{"m":"Ditto","r":6,"v":95.2},{"m":"Ditto","r":10,"v":96.5},{"m":"Ditto","r":15,"v":97.4},{"m":"Ditto","r":25,"v":98.2},{"m":"Ditto","r":40,"v":98.7},{"m":"Ditto","r":80,"v":99.1},{"m":"Ditto","r":200,"v":99.3},
{"m":"LG-FedAvg","r":0,"v":95},{"m":"LG-FedAvg","r":3,"v":96},{"m":"LG-FedAvg","r":6,"v":96.7},{"m":"LG-FedAvg","r":10,"v":97},{"m":"LG-FedAvg","r":15,"v":97.2},{"m":"LG-FedAvg","r":25,"v":97.4},{"m":"LG-FedAvg","r":50,"v":97.5},{"m":"LG-FedAvg","r":200,"v":97.5}
],
"e": [
{"m":"pFedMe","r":0,"v":41.5},{"m":"pFedMe","r":15,"v":41.9},{"m":"pFedMe","r":20,"v":44.4},{"m":"pFedMe","r":24,"v":47.5},{"m":"pFedMe","r":28,"v":50.4},{"m":"pFedMe","r":32,"v":52.5},{"m":"pFedMe","r":38,"v":54.7},{"m":"pFedMe","r":48,"v":56.8},{"m":"pFedMe","r":72,"v":59},{"m":"pFedMe","r":97,"v":61.5},{"m":"pFedMe","r":122,"v":65},{"m":"pFedMe","r":147,"v":66.7},{"m":"pFedMe","r":197,"v":69.7},{"m":"pFedMe","r":232,"v":71.8},{"m":"pFedMe","r":300,"v":75.2},{"m":"pFedMe","r":350,"v":76.6},{"m":"pFedMe","r":400,"v":77.8},{"m":"pFedMe","r":450,"v":78.8},{"m":"pFedMe","r":500,"v":79.5},
{"m":"FML","r":0,"v":43},{"m":"FML","r":5,"v":52},{"m":"FML","r":12,"v":58},{"m":"FML","r":17,"v":63},{"m":"FML","r":22,"v":68.4},{"m":"FML","r":30,"v":72},{"m":"FML","r":37,"v":74.4},{"m":"FML","r":47,"v":76.5},{"m":"FML","r":57,"v":77.8},{"m":"FML","r":70,"v":78.6},{"m":"FML","r":82,"v":79.1},{"m":"FML","r":100,"v":79},{"m":"FML","r":150,"v":78.8},{"m":"FML","r":200,"v":78.6},{"m":"FML","r":232,"v":78.3},{"m":"FML","r":300,"v":78.8},{"m":"FML","r":400,"v":79.5},{"m":"FML","r":500,"v":80},
{"m":"LG-FedAvg","r":0,"v":48},{"m":"LG-FedAvg","r":4,"v":56},{"m":"LG-FedAvg","r":8,"v":63},{"m":"LG-FedAvg","r":13,"v":68},{"m":"LG-FedAvg","r":17,"v":71.8},{"m":"LG-FedAvg","r":22,"v":74},{"m":"LG-FedAvg","r":27,"v":75.2},{"m":"LG-FedAvg","r":47,"v":75.6},{"m":"LG-FedAvg","r":72,"v":77},{"m":"LG-FedAvg","r":97,"v":77.5},{"m":"LG-FedAvg","r":122,"v":77.8},{"m":"LG-FedAvg","r":150,"v":78.1},{"m":"LG-FedAvg","r":197,"v":78.6},{"m":"LG-FedAvg","r":250,"v":78.8},{"m":"LG-FedAvg","r":300,"v":79},{"m":"LG-FedAvg","r":400,"v":79.1},{"m":"LG-FedAvg","r":500,"v":78.5},
{"m":"FedRep","r":0,"v":42},{"m":"FedRep","r":4,"v":50},{"m":"FedRep","r":8,"v":56.4},{"m":"FedRep","r":15,"v":64},{"m":"FedRep","r":22,"v":70},{"m":"FedRep","r":30,"v":74},{"m":"FedRep","r":37,"v":77},{"m":"FedRep","r":47,"v":80},{"m":"FedRep","r":57,"v":82},{"m":"FedRep","r":75,"v":84},{"m":"FedRep","r":97,"v":85.5},{"m":"FedRep","r":125,"v":86},{"m":"FedRep","r":147,"v":86.3},{"m":"FedRep","r":200,"v":87},{"m":"FedRep","r":232,"v":87.2},{"m":"FedRep","r":300,"v":88},{"m":"FedRep","r":350,"v":88.3},{"m":"FedRep","r":400,"v":88.6},{"m":"FedRep","r":450,"v":89},{"m":"FedRep","r":500,"v":89.4},
{"m":"HypCluster","r":0,"v":45},{"m":"HypCluster","r":4,"v":53},{"m":"HypCluster","r":8,"v":59.8},{"m":"HypCluster","r":15,"v":67},{"m":"HypCluster","r":22,"v":72.6},{"m":"HypCluster","r":30,"v":77},{"m":"HypCluster","r":37,"v":80.3},{"m":"HypCluster","r":47,"v":82},{"m":"HypCluster","r":57,"v":83},{"m":"HypCluster","r":75,"v":84.5},{"m":"HypCluster","r":97,"v":85.5},{"m":"HypCluster","r":125,"v":86},{"m":"HypCluster","r":147,"v":86.3},{"m":"HypCluster","r":175,"v":86.8},{"m":"HypCluster","r":200,"v":87},{"m":"HypCluster","r":232,"v":87.2},{"m":"HypCluster","r":260,"v":87.8},{"m":"HypCluster","r":300,"v":88},{"m":"HypCluster","r":330,"v":88.3},{"m":"HypCluster","r":360,"v":88.1},{"m":"HypCluster","r":400,"v":88.5},{"m":"HypCluster","r":430,"v":88.8},{"m":"HypCluster","r":460,"v":88.6},{"m":"HypCluster","r":500,"v":89},
{"m":"FedAvg","r":0,"v":46},{"m":"FedAvg","r":4,"v":51},{"m":"FedAvg","r":8,"v":56},{"m":"FedAvg","r":15,"v":64},{"m":"FedAvg","r":22,"v":70},{"m":"FedAvg","r":30,"v":74.5},{"m":"FedAvg","r":37,"v":78},{"m":"FedAvg","r":47,"v":81},{"m":"FedAvg","r":57,"v":83},{"m":"FedAvg","r":75,"v":84.8},{"m":"FedAvg","r":97,"v":85.8},{"m":"FedAvg","r":147,"v":87},{"m":"FedAvg","r":200,"v":87.8},{"m":"FedAvg","r":300,"v":89},{"m":"FedAvg","r":400,"v":89.4},{"m":"FedAvg","r":500,"v":89.7},
{"m":"FedProx","r":0,"v":46},{"m":"FedProx","r":4,"v":52},{"m":"FedProx","r":8,"v":57},{"m":"FedProx","r":15,"v":65},{"m":"FedProx","r":22,"v":71},{"m":"FedProx","r":30,"v":75},{"m":"FedProx","r":37,"v":78.5},{"m":"FedProx","r":47,"v":81.5},{"m":"FedProx","r":57,"v":83.5},{"m":"FedProx","r":75,"v":85},{"m":"FedProx","r":97,"v":86},{"m":"FedProx","r":147,"v":87.2},{"m":"FedProx","r":200,"v":88},{"m":"FedProx","r":300,"v":89.2},{"m":"FedProx","r":400,"v":89.7},{"m":"FedProx","r":500,"v":90},
{"m":"FedMe","r":0,"v":45},{"m":"FedMe","r":4,"v":50},{"m":"FedMe","r":8,"v":54.7},{"m":"FedMe","r":15,"v":63},{"m":"FedMe","r":22,"v":69},{"m":"FedMe","r":30,"v":73.5},{"m":"FedMe","r":37,"v":77.3},{"m":"FedMe","r":47,"v":81.2},{"m":"FedMe","r":57,"v":83.8},{"m":"FedMe","r":75,"v":85.3},{"m":"FedMe","r":97,"v":86.2},{"m":"FedMe","r":147,"v":87.5},{"m":"FedMe","r":200,"v":88.3},{"m":"FedMe","r":232,"v":88.9},{"m":"FedMe","r":300,"v":89.5},{"m":"FedMe","r":400,"v":90},{"m":"FedMe","r":500,"v":90.3},
{"m":"FedPer","r":0,"v":50},{"m":"FedPer","r":4,"v":58},{"m":"FedPer","r":8,"v":63},{"m":"FedPer","r":15,"v":71},{"m":"FedPer","r":22,"v":77},{"m":"FedPer","r":30,"v":79.5},{"m":"FedPer","r":37,"v":81.2},{"m":"FedPer","r":47,"v":83.2},{"m":"FedPer","r":57,"v":84.6},{"m":"FedPer","r":75,"v":85.5},{"m":"FedPer","r":97,"v":86.3},{"m":"FedPer","r":147,"v":87.5},{"m":"FedPer","r":200,"v":88.3},{"m":"FedPer","r":232,"v":89.2},{"m":"FedPer","r":300,"v":89.6},{"m":"FedPer","r":400,"v":90.1},{"m":"FedPer","r":500,"v":90.5},
{"m":"Ditto","r":0,"v":45},{"m":"Ditto","r":5,"v":54},{"m":"Ditto","r":10,"v":61},{"m":"Ditto","r":15,"v":66},{"m":"Ditto","r":22,"v":75},{"m":"Ditto","r":30,"v":79.5},{"m":"Ditto","r":37,"v":82},{"m":"Ditto","r":47,"v":84.6},{"m":"Ditto","r":60,"v":86.2},{"m":"Ditto","r":72,"v":87.5},{"m":"Ditto","r":97,"v":88.9},{"m":"Ditto","r":120,"v":89.6},{"m":"Ditto","r":147,"v":90.1},{"m":"Ditto","r":197,"v":90.4},{"m":"Ditto","r":250,"v":90.5},{"m":"Ditto","r":300,"v":90.5},{"m":"Ditto","r":400,"v":90.7},{"m":"Ditto","r":500,"v":90.8}
]
},
"vconcat": [
{"hconcat": [
{"data": {"name": "a"}, "width": 339, "height": 195, "title": {"text": "(a) FEMNIST"},
 "layer": [
  {"mark": {"type": "line", "strokeWidth": 1.2},
   "encoding": {
    "x": {"field": "r", "type": "quantitative", "scale": {"domain": [0, 300], "nice": false}, "axis": {"values": [0, 100, 200, 300], "title": "Global communication rounds"}},
    "y": {"field": "v", "type": "quantitative", "scale": {"domain": [0, 80], "nice": false}, "axis": {"values": [0, 20, 40, 60, 80], "title": "Validation accuracy (%)"}},
    "color": {"field": "m", "type": "nominal", "scale": {"domain": ["FedAvg","FedProx","HypCluster","FML","FedMe","LG-FedAvg","FedPer","FedRep","Ditto","pFedMe"], "range": ["#000000","#a0a0a0","#ff0000","#00c000","#0080ff","#c000ff","#00eeee","#c04000","#c8c800","#ffc020"]}, "legend": {"title": null}}}},
  {"mark": {"type": "line", "opacity": 0},
   "encoding": {
    "x": {"field": "r", "type": "quantitative", "scale": {"domain": [0, 300], "nice": false}, "axis": {"orient": "top", "values": [0, 100, 200, 300], "labels": false, "title": null, "grid": false}},
    "y": {"field": "v", "type": "quantitative", "scale": {"domain": [0, 80], "nice": false}, "axis": {"orient": "right", "values": [0, 20, 40, 60, 80], "labels": false, "title": null, "grid": false}},
    "detail": {"field": "m"}}}
 ],
 "resolve": {"axis": {"x": "independent", "y": "independent"}}},
{"data": {"name": "b"}, "width": 339, "height": 195, "title": {"text": "(b) Shakespeare"},
 "layer": [
  {"mark": {"type": "line", "strokeWidth": 1.2},
   "encoding": {
    "x": {"field": "r", "type": "quantitative", "scale": {"domain": [0, 100], "nice": false}, "axis": {"values": [0, 25, 50, 75, 100], "title": "Global communication rounds"}},
    "y": {"field": "v", "type": "quantitative", "scale": {"domain": [0, 50], "nice": false}, "axis": {"values": [0, 10, 20, 30, 40, 50], "title": "Validation accuracy (%)"}},
    "color": {"field": "m", "type": "nominal", "scale": {"domain": ["FedAvg","FedProx","HypCluster","FML","FedMe","LG-FedAvg","FedPer","FedRep","Ditto","pFedMe"], "range": ["#000000","#a0a0a0","#ff0000","#00c000","#0080ff","#c000ff","#00eeee","#c04000","#c8c800","#ffc020"]}, "legend": {"title": null}}}},
  {"mark": {"type": "line", "opacity": 0},
   "encoding": {
    "x": {"field": "r", "type": "quantitative", "scale": {"domain": [0, 100], "nice": false}, "axis": {"orient": "top", "values": [0, 25, 50, 75, 100], "labels": false, "title": null, "grid": false}},
    "y": {"field": "v", "type": "quantitative", "scale": {"domain": [0, 50], "nice": false}, "axis": {"orient": "right", "values": [0, 10, 20, 30, 40, 50], "labels": false, "title": null, "grid": false}},
    "detail": {"field": "m"}}}
 ],
 "resolve": {"axis": {"x": "independent", "y": "independent"}}},
{"data": {"name": "c"}, "width": 339, "height": 195, "title": {"text": "(c) Sent140"},
 "layer": [
  {"mark": {"type": "line", "strokeWidth": 1.2},
   "encoding": {
    "x": {"field": "r", "type": "quantitative", "scale": {"domain": [0, 100], "nice": false}, "axis": {"values": [0, 25, 50, 75, 100], "title": "Global communication rounds"}},
    "y": {"field": "v", "type": "quantitative", "scale": {"domain": [0, 80], "nice": false}, "axis": {"values": [0, 20, 40, 60, 80], "title": "Validation accuracy (%)"}},
    "color": {"field": "m", "type": "nominal", "scale": {"domain": ["FedAvg","FedProx","HypCluster","FML","FedMe","LG-FedAvg","FedPer","FedRep","Ditto","pFedMe"], "range": ["#000000","#a0a0a0","#ff0000","#00c000","#0080ff","#c000ff","#00eeee","#c04000","#c8c800","#ffc020"]}, "legend": {"title": null}}}},
  {"mark": {"type": "line", "opacity": 0},
   "encoding": {
    "x": {"field": "r", "type": "quantitative", "scale": {"domain": [0, 100], "nice": false}, "axis": {"orient": "top", "values": [0, 25, 50, 75, 100], "labels": false, "title": null, "grid": false}},
    "y": {"field": "v", "type": "quantitative", "scale": {"domain": [0, 80], "nice": false}, "axis": {"orient": "right", "values": [0, 20, 40, 60, 80], "labels": false, "title": null, "grid": false}},
    "detail": {"field": "m"}}}
 ],
 "resolve": {"axis": {"x": "independent", "y": "independent"}}}
], "spacing": 59.5, "bounds": "flush"},
{"hconcat": [
{"data": {"name": "d"}, "width": 333, "height": 195, "title": {"text": "(d) MNIST"},
 "layer": [
  {"mark": {"type": "line", "strokeWidth": 1.2},
   "encoding": {
    "x": {"field": "r", "type": "quantitative", "scale": {"domain": [0, 200], "nice": false}, "axis": {"values": [0, 50, 100, 150, 200], "title": "Global communication rounds"}},
    "y": {"field": "v", "type": "quantitative", "scale": {"domain": [0, 100], "nice": false}, "axis": {"values": [0, 20, 40, 60, 80, 100], "title": "Validation accuracy (%)"}},
    "color": {"field": "m", "type": "nominal", "scale": {"domain": ["FedAvg","FedProx","HypCluster","FML","FedMe","LG-FedAvg","FedPer","FedRep","Ditto","pFedMe"], "range": ["#000000","#a0a0a0","#ff0000","#00c000","#0080ff","#c000ff","#00eeee","#c04000","#c8c800","#ffc020"]}, "legend": {"title": null}}}},
  {"mark": {"type": "line", "opacity": 0},
   "encoding": {
    "x": {"field": "r", "type": "quantitative", "scale": {"domain": [0, 200], "nice": false}, "axis": {"orient": "top", "values": [0, 50, 100, 150, 200], "labels": false, "title": null, "grid": false}},
    "y": {"field": "v", "type": "quantitative", "scale": {"domain": [0, 100], "nice": false}, "axis": {"orient": "right", "values": [0, 20, 40, 60, 80, 100], "labels": false, "title": null, "grid": false}},
    "detail": {"field": "m"}}}
 ],
 "resolve": {"axis": {"x": "independent", "y": "independent"}}},
{"data": {"name": "e"}, "width": 333, "height": 195, "title": {"text": "(e) CIFAR-10"},
 "layer": [
  {"mark": {"type": "line", "strokeWidth": 1.2},
   "encoding": {
    "x": {"field": "r", "type": "quantitative", "scale": {"domain": [0, 500], "nice": false}, "axis": {"values": [0, 100, 200, 300, 400, 500], "title": "Global communication rounds"}},
    "y": {"field": "v", "type": "quantitative", "scale": {"domain": [0, 100], "nice": false}, "axis": {"values": [0, 20, 40, 60, 80, 100], "title": "Validation accuracy (%)"}},
    "color": {"field": "m", "type": "nominal", "scale": {"domain": ["FedAvg","FedProx","HypCluster","FML","FedMe","LG-FedAvg","FedPer","FedRep","Ditto","pFedMe"], "range": ["#000000","#a0a0a0","#ff0000","#00c000","#0080ff","#c000ff","#00eeee","#c04000","#c8c800","#ffc020"]}, "legend": {"title": null}}}},
  {"mark": {"type": "line", "opacity": 0},
   "encoding": {
    "x": {"field": "r", "type": "quantitative", "scale": {"domain": [0, 500], "nice": false}, "axis": {"orient": "top", "values": [0, 100, 200, 300, 400, 500], "labels": false, "title": null, "grid": false}},
    "y": {"field": "v", "type": "quantitative", "scale": {"domain": [0, 100], "nice": false}, "axis": {"orient": "right", "values": [0, 20, 40, 60, 80, 100], "labels": false, "title": null, "grid": false}},
    "detail": {"field": "m"}}}
 ],
 "resolve": {"axis": {"x": "independent", "y": "independent"}}}
], "spacing": 66, "bounds": "flush"}
],
"spacing": 45,
"center": true,
"resolve": {"scale": {"color": "shared"}},
"config": {
 "font": "Liberation Sans",
 "view": {"stroke": "#000000", "strokeWidth": 1},
 "axis": {"domain": false, "tickColor": "#000000", "tickSize": -6, "tickWidth": 1, "labelFontSize": 10, "labelColor": "#222222", "labelPadding": 11, "labelFlush": false, "labelFont": "Liberation Sans", "titleFont": "Liberation Sans", "titleFontWeight": "normal", "titleColor": "#222222", "gridColor": "#c4c4c4", "gridDash": [1, 3], "gridWidth": 1},
 "axisX": {"titleFontSize": 13, "titlePadding": 7},
 "axisY": {"titleFontSize": 11, "titlePadding": 14},
 "title": {"orient": "bottom", "frame": "bounds", "anchor": "middle", "offset": 19, "font": "Liberation Serif", "fontSize": 20.5, "fontWeight": "normal", "color": "#000000"},
 "legend": {"orient": "none", "legendX": -18, "legendY": -50, "columns": 5, "symbolType": "M-3.75,0H3.75", "symbolSize": 256, "symbolStrokeWidth": 6, "symbolOffset": 22, "labelAlign": "right", "labelOffset": -51, "labelFontSize": 18.5, "labelFont": "Liberation Sans", "labelColor": "#111111", "rowPadding": 0, "columnPadding": 111.3, "gridAlign": "all", "padding": 0, "labelLimit": 300}
}
}
